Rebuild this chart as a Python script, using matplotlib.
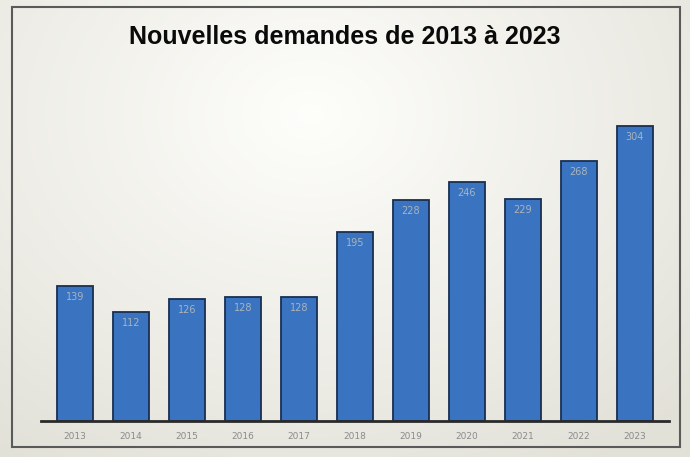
import numpy as np
import matplotlib
matplotlib.use("Agg")
import matplotlib.pyplot as plt
from matplotlib.patches import Rectangle

years = ["2013", "2014", "2015", "2016", "2017", "2018", "2019", "2020", "2021", "2022", "2023"]
values = [139, 112, 126, 128, 128, 195, 228, 246, 229, 268, 304]
title = "Nouvelles demandes de 2013 à 2023"

W, H = 690, 457
fig = plt.figure(figsize=(W / 100, H / 100), dpi=100)
fig.patch.set_facecolor("#e6e5dc")

# background gradient
bg = fig.add_axes([0, 0, 1, 1])
yy, xx = np.mgrid[0:1:200j, 0:1:300j]
d = np.sqrt(((xx - 0.45) / 0.75) ** 2 + ((yy - 0.25) / 0.9) ** 2)
d = np.clip(d, 0, 1)
c_in = np.array([0.995, 0.995, 0.985])
c_out = np.array([0.89, 0.885, 0.85])
img = c_in[None, None, :] * (1 - d[..., None]) + c_out[None, None, :] * d[..., None]
bg.imshow(img, extent=[0, 1, 0, 1], aspect="auto", origin="upper")
bg.set_xlim(0, 1)
bg.set_ylim(0, 1)
bg.axis("off")
bg.add_patch(Rectangle((12 / W, 1 - 447 / H), 668 / W, 440 / H, fill=False,
                       edgecolor="#5a5a5a", linewidth=1.5, transform=bg.transAxes))

ax = fig.add_axes([47 / W, 36 / H, 616 / W, 330 / H])
ax.set_facecolor("none")
x = np.arange(len(years))
bars = ax.bar(x, values, width=0.64, color="#3a74c0", edgecolor="#182f52", linewidth=1.3, zorder=3)
for xi, v in zip(x, values):
    ax.text(xi, v - 6, str(v), ha="center", va="top", fontsize=7, color="#a9b3bd", zorder=4)
ax.set_xlim(-0.5, 10.5)
ax.set_ylim(0, 340)
ax.set_xticks(x)
ax.set_xticklabels(years, fontsize=6.5, color="#8a8a8a")
ax.tick_params(axis="x", length=0, pad=8)
ax.set_yticks([])
for s in ["top", "right", "left"]:
    ax.spines[s].set_visible(False)
ax.spines["bottom"].set_color("#2a2a2a")
ax.spines["bottom"].set_linewidth(2)
ax.spines["bottom"].set_bounds(-0.6, 10.6)
ax.spines["bottom"].set_zorder(5)

fig.text(345 / W, 1 - 37 / H, title, ha="center", va="center", fontsize=18,
         fontweight="bold", family=["Liberation Sans", "DejaVu Sans"], color="#0a0a0a")

fig.savefig("out.png", dpi=100, facecolor=fig.get_facecolor())
